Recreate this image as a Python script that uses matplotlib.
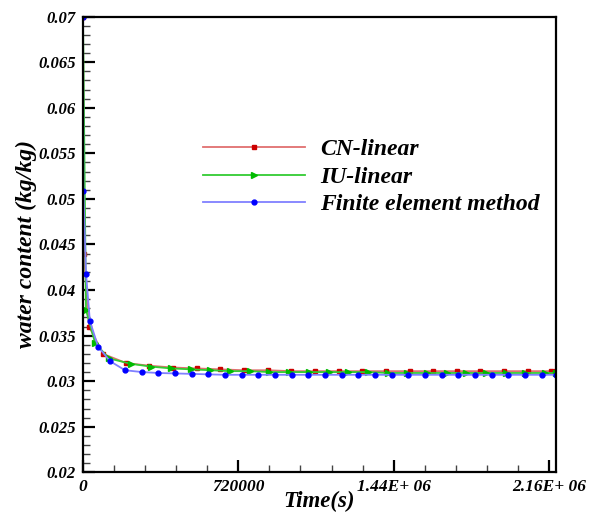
import matplotlib
matplotlib.use("Agg")
import matplotlib.pyplot as plt
from matplotlib.ticker import MultipleLocator, FixedLocator, FixedFormatter, FuncFormatter

plt.rcParams.update({
    "font.family": "serif",
    "font.serif": ["Liberation Serif", "DejaVu Serif"],
    "font.weight": "bold",
    "font.style": "italic",
    "axes.labelweight": "bold",
})

# CN-linear scheme
t_cn = [0, 4600, 28000, 93000, 199000, 306000, 417000, 528000, 635000, 746000,
        857000, 966000, 1076000, 1185000, 1295000, 1404000, 1514000, 1623000,
        1733000, 1842000, 1952000, 2061000, 2170000, 2190000]
w_cn = [0.07, 0.0440, 0.0360, 0.0330, 0.0320, 0.0317, 0.0315, 0.0314, 0.0313, 0.0312,
        0.0312, 0.0311, 0.0311, 0.0311, 0.0311, 0.0311, 0.0311, 0.0311,
        0.0311, 0.0311, 0.0311, 0.0311, 0.0311, 0.0311]

# IU-linear scheme
t_iu = [0, 14000, 56000, 120000, 223000, 315000, 408000, 499000, 590000, 682000,
        773000, 864000, 955000, 1047000, 1138000, 1229000, 1320000, 1412000,
        1503000, 1594000, 1685000, 1777000, 1868000, 1959000, 2050000, 2141000, 2190000]
w_iu = [0.07, 0.0378, 0.0342, 0.0325, 0.0319, 0.0316, 0.0314, 0.0313, 0.0312, 0.0311,
        0.0311, 0.0310, 0.0310, 0.0310, 0.0310, 0.0310, 0.0310, 0.0309,
        0.0309, 0.0309, 0.0309, 0.0309, 0.0309, 0.0309, 0.0309, 0.0309, 0.0309]

# Finite element method
t_fem = [0, 2000, 14000, 32000, 70000, 125000, 195000, 274000, 348000, 427000,
         506000, 580000, 657000, 735000, 812000, 890000, 967000, 1044000, 1121000,
         1199000, 1276000, 1353000, 1430000, 1508000, 1585000, 1662000, 1740000,
         1817000, 1894000, 1971000, 2049000, 2126000, 2190000]
w_fem = [0.07, 0.0509, 0.0418, 0.0366, 0.0338, 0.0322, 0.0312, 0.0310, 0.0309, 0.03085,
         0.0308, 0.03075, 0.0307, 0.0307, 0.0307, 0.0307, 0.0307, 0.0307, 0.0307,
         0.0307, 0.0307, 0.0307, 0.0307, 0.0307, 0.0307, 0.0307, 0.0307,
         0.0307, 0.0307, 0.0307, 0.0307, 0.0307, 0.0307]

x_ticks = [0, 720000, 1440000, 2160000]
x_labels = ["0", "720000", "1.44E+ 06", "2.16E+ 06"]

fig = plt.figure(figsize=(5.94, 5.15), dpi=100)
ax = fig.add_axes([0.1397, 0.0829, 0.7963, 0.8847])

ax.plot(t_cn, w_cn, color="#e07070", lw=1.3, marker="s", ms=3,
        mfc="#cc0000", mec="#cc0000", label="CN-linear")
ax.plot(t_iu, w_iu, color="#33cc33", lw=1.3, marker=">", ms=4,
        mfc="#00bb00", mec="#00bb00", label="IU-linear")
ax.plot(t_fem, w_fem, color="#8080ff", lw=1.3, marker="o", ms=3.5,
        mfc="#0000ff", mec="#0000ff", label="Finite element method")

ax.set_xlim(0, 2.192e6)
ax.set_ylim(0.02, 0.07)

ax.xaxis.set_major_locator(FixedLocator(x_ticks))
ax.xaxis.set_major_formatter(FixedFormatter(x_labels))
ax.xaxis.set_minor_locator(MultipleLocator(144000))
ax.yaxis.set_major_locator(MultipleLocator(0.005))
ax.yaxis.set_minor_locator(MultipleLocator(0.001))
ax.yaxis.set_major_formatter(FuncFormatter(lambda v, p: f"{v:.3f}".rstrip("0")))

ax.tick_params(which="both", direction="in", top=False, right=False)
ax.tick_params(axis="x", labelsize=12.5)
ax.tick_params(axis="y", labelsize=12)
ax.tick_params(which="major", length=8.5, width=1.6, pad=5)
ax.tick_params(which="minor", length=5, width=1.0, color="#444444")
for s in ax.spines.values():
    s.set_linewidth(1.6)
for lbl in ax.get_xticklabels() + ax.get_yticklabels():
    lbl.set_fontweight("bold")
    lbl.set_fontstyle("italic")

ax.set_xlabel("Time(s)", fontsize=16.5, fontweight="bold", fontstyle="italic", labelpad=-3)
ax.set_ylabel("water content (kg/kg)", fontsize=17, fontweight="bold",
              fontstyle="italic", labelpad=1)

leg = ax.legend(loc="center left", bbox_to_anchor=(0.3418, 0.656),
                bbox_transform=fig.transFigure, frameon=False,
                prop={"size": 17, "weight": "bold", "style": "italic"},
                numpoints=1, handlelength=4.3, handletextpad=0.65,
                labelspacing=0.25, borderpad=0, borderaxespad=0)

fig.savefig("out.png", dpi=100)
